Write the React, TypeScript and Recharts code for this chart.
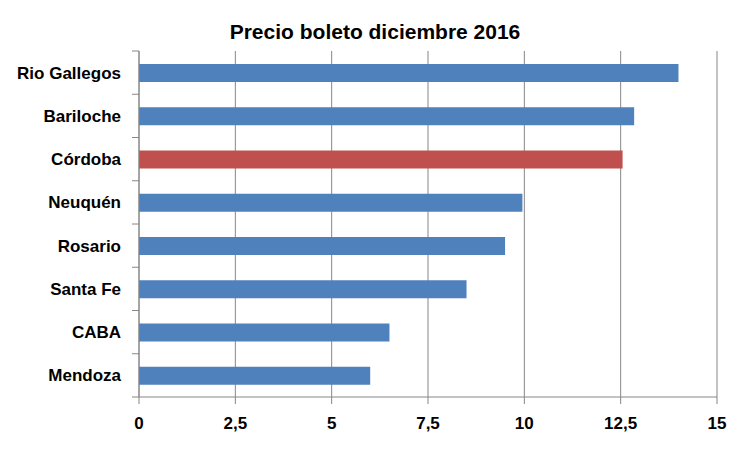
import { BarChart, Bar, XAxis, YAxis, CartesianGrid, Cell } from "recharts";

const cities = ["Rio Gallegos", "Bariloche", "Córdoba", "Neuquén", "Rosario", "Santa Fe", "CABA", "Mendoza"];
const prices = [14, 12.85, 12.55, 9.95, 9.5, 8.5, 6.5, 6];
const highlighted = "Córdoba";
const xTicks = [0, 2.5, 5, 7.5, 10, 12.5, 15];

const data = cities.map((ciudad, i) => ({ ciudad, precio: prices[i] }));

const W = 750;
const H = 450;
const X_AXIS_H = 53;
const M = { top: 51, right: 33, left: 0, bottom: 0 };
const FONT = "'Liberation Sans', Arial, sans-serif";
const GRID = "#868686";
const band = (H - M.top - X_AXIS_H) / cities.length;

function CityTick(props: any) {
  const { x, y, payload, index } = props;
  const ax = x + 18;
  return (
    <g>
      <line x1={ax - 7} x2={ax} y1={y - band / 2} y2={y - band / 2} stroke={GRID} />
      {index === cities.length - 1 && (
        <line x1={ax - 7} x2={ax} y1={y + band / 2} y2={y + band / 2} stroke={GRID} />
      )}
      <text x={x} y={y} dy="0.35em" textAnchor="end" fontSize={17} fontWeight="bold" fill="#000" fontFamily={FONT}>
        {payload.value}
      </text>
    </g>
  );
}

export default function App() {
  return (
    <div style={{ position: "absolute", left: 0, top: 0, width: W, height: H, background: "#fff" }}>
      <div
        style={{
          position: "absolute",
          top: 19,
          left: 0,
          width: W,
          textAlign: "center",
          fontFamily: FONT,
          fontWeight: "bold",
          fontSize: 21,
          lineHeight: "26px",
          color: "#000",
        }}
      >
        Precio boleto diciembre 2016
      </div>
      <BarChart width={W} height={H} data={data} layout="vertical" margin={M} barSize={18}>
        <CartesianGrid horizontal={false} stroke={GRID} />
        <XAxis
          type="number"
          domain={[0, 15]}
          ticks={xTicks}
          interval={0}
          height={X_AXIS_H}
          tickSize={7}
          tickMargin={13}
          axisLine={{ stroke: GRID }}
          tickLine={{ stroke: GRID }}
          tickFormatter={(v) => String(v).replace(".", ",")}
          tick={{ fontSize: 17, fontWeight: "bold", fill: "#000", fontFamily: FONT }}
        />
        <YAxis
          type="category"
          dataKey="ciudad"
          width={139}
          tickSize={7}
          tickMargin={11}
          axisLine={{ stroke: GRID }}
          tickLine={false}
          tick={<CityTick />}
          interval={0}
        />
        <Bar dataKey="precio" isAnimationActive={false}>
          {data.map((d) => (
            <Cell key={d.ciudad} fill={d.ciudad === highlighted ? "#C0504D" : "#4F81BD"} />
          ))}
        </Bar>
      </BarChart>
    </div>
  );
}
